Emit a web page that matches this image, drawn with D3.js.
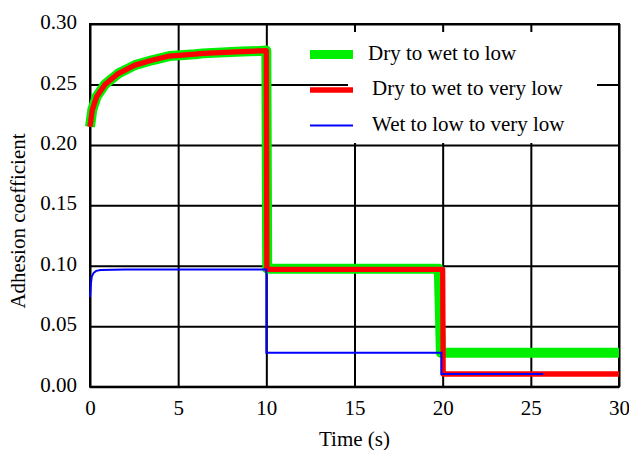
<html>
<head>
<meta charset="utf-8">
<script src="https://d3js.org/d3.v7.min.js"></script>
<style>
  body { margin: 0; background: #fff; }
  text { font-family: "Liberation Serif", "Times New Roman", serif; fill: #000; }
</style>
</head>
<body>
<div id="chart"></div>
<script>
var width = 629, height = 450
var plotLeft = 90, plotRight = 619, plotTop = 24, plotBottom = 386.7
var serif = '"Liberation Serif", "Times New Roman", serif'

// data: [time (s), adhesion coefficient]
var dryWetLow = [[0,0.215],[0.13,0.229],[0.38,0.240],[0.85,0.250],[1.6,0.259],[2.55,0.266],[3.5,0.270],
  [4.5,0.2735],[5.95,0.275],[6.4,0.2757],[8.3,0.277],[9.6,0.2777],[10,0.278],
  [10.05,0.0975],[19.78,0.0975],[19.9,0.028],[30,0.028]]
var dryWetVeryLow = [[0,0.215],[0.13,0.229],[0.38,0.240],[0.85,0.250],[1.6,0.259],[2.55,0.266],[3.5,0.270],
  [4.5,0.2735],[5.95,0.275],[6.4,0.2757],[8.3,0.277],[9.6,0.2777],[10,0.278],
  [10.03,0.097],[20,0.097],[20.03,0.0105],[30,0.0105]]
var wetLowVeryLow = [[0,0.074],[0.05,0.085],[0.1,0.091],[0.2,0.094],[0.35,0.0958],[0.6,0.0965],[2,0.097],
  [10,0.097],[10,0.028],[19.93,0.028],[19.93,0.0105],[25.7,0.0105]]

var xTicks = [0, 5, 10, 15, 20, 25, 30]
var yTicks = [0, 0.05, 0.10, 0.15, 0.20, 0.25, 0.30]
var seriesNames = ["Dry to wet to low", "Dry to wet to very low", "Wet to low to very low"]

var svg = d3.select('#chart').append('svg')
  .attr('width', width)
  .attr('height', height)

var x = d3.scaleLinear().domain([0, 30]).range([plotLeft, plotRight])
var y = d3.scaleLinear().domain([0, 0.30]).range([plotBottom, plotTop])

// grid via axes
var gx = svg.append('g')
  .attr('transform', 'translate(0,' + plotBottom + ')')
  .call(d3.axisBottom(x).tickValues(xTicks).tickFormat(d3.format('d'))
    .tickSizeInner(-(plotBottom - plotTop)).tickSizeOuter(0).tickPadding(13.4))
gx.attr('font-family', null).attr('font-size', null)
gx.select('.domain').remove()
gx.selectAll('line').attr('stroke', '#000').attr('stroke-width', 2)
gx.selectAll('text').style('font-size', '21px').style('font-family', serif)

var gy = svg.append('g')
  .attr('transform', 'translate(' + plotLeft + ',0)')
  .call(d3.axisLeft(y).tickValues(yTicks).tickFormat(d3.format('.2f'))
    .tickSizeInner(-(plotRight - plotLeft)).tickSizeOuter(0).tickPadding(13))
gy.attr('font-family', null).attr('font-size', null)
gy.select('.domain').remove()
gy.selectAll('line').attr('stroke', '#000').attr('stroke-width', 2)
gy.selectAll('text').style('font-size', '21px').style('font-family', serif).attr('dy', '0.22em')

// frame
svg.append('rect')
  .attr('x', plotLeft).attr('y', plotTop)
  .attr('width', plotRight - plotLeft).attr('height', plotBottom - plotTop)
  .attr('fill', 'none').attr('stroke', '#000').attr('stroke-width', 2)

// legend background hides grid
svg.append('rect')
  .attr('x', 348).attr('y', 32).attr('width', 249).attr('height', 111)
  .attr('fill', '#fff')

var line = d3.line().x(function(d){ return x(d[0]) }).y(function(d){ return y(d[1]) })

svg.append('path').datum(dryWetLow).attr('d', line)
  .attr('fill', 'none').attr('stroke', '#00ee00').attr('stroke-width', 10).attr('stroke-linejoin', 'round')
svg.append('path').datum(dryWetVeryLow).attr('d', line)
  .attr('fill', 'none').attr('stroke', '#ff0000').attr('stroke-width', 5.3).attr('stroke-linejoin', 'round')
svg.append('path').datum(wetLowVeryLow).attr('d', line)
  .attr('fill', 'none').attr('stroke', '#0000ff').attr('stroke-width', 2)

// legend
var legColors = ['#00ee00', '#ff0000', '#0000ff']
var legWidths = [9, 5.3, 2.2]
var legLineY = [54.5, 90, 125.5]
var legTextX = [368, 372, 372]
var legTextY = [60, 95, 131]
for (let i = 0; i < 3; i++) {
  svg.append('line')
    .attr('x1', 310).attr('x2', 353)
    .attr('y1', legLineY[i]).attr('y2', legLineY[i])
    .attr('stroke', legColors[i]).attr('stroke-width', legWidths[i])
  svg.append('text')
    .attr('x', legTextX[i]).attr('y', legTextY[i])
    .style('font-size', '21px')
    .text(seriesNames[i])
}

// axis titles
svg.append('text')
  .attr('x', (plotLeft + plotRight) / 2).attr('y', 446)
  .attr('text-anchor', 'middle')
  .style('font-size', '21px')
  .text('Time (s)')

svg.append('text')
  .attr('transform', 'translate(25,221) rotate(-90)')
  .attr('text-anchor', 'middle')
  .style('font-size', '21px')
  .text('Adhesion coefficient')
</script>
</body>
</html>
